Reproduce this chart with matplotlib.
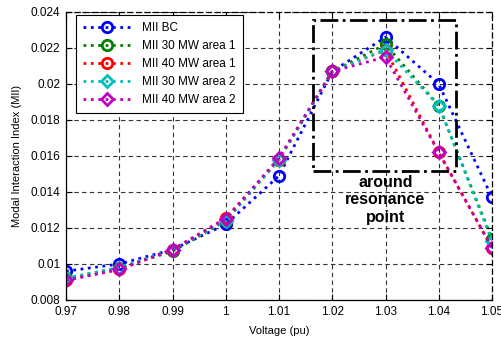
import matplotlib
matplotlib.use("Agg")
import matplotlib.pyplot as plt
from matplotlib.patches import Rectangle

plt.rcParams['font.family'] = ['Liberation Sans', 'DejaVu Sans']

voltage = [0.97, 0.98, 0.99, 1.00, 1.01, 1.02, 1.03, 1.04, 1.05]
mii_bc = [0.0096, 0.0100, 0.0108, 0.0122, 0.0149, 0.0207, 0.0226, 0.0200, 0.0137]
mii_30_a1 = [0.0092, 0.0098, 0.0107, 0.0124, 0.0158, 0.0207, 0.0222, 0.0188, 0.0114]
mii_40_a1 = [0.0091, 0.0097, 0.0108, 0.01255, 0.0158, 0.0207, 0.0219, 0.0162, 0.0109]
mii_30_a2 = [0.0092, 0.0098, 0.0108, 0.0124, 0.0158, 0.0207, 0.0219, 0.0188, 0.0113]
mii_40_a2 = [0.0091, 0.0097, 0.0108, 0.0125, 0.0159, 0.0207, 0.0215, 0.0162, 0.0109]

series = [
    ("MII BC", mii_bc, (0, 0, 1), 'o'),
    ("MII 30 MW area 1", mii_30_a1, (0, 0.5, 0), 'o'),
    ("MII 40 MW area 1", mii_40_a1, (1, 0, 0), 'o'),
    ("MII 30 MW area 2", mii_30_a2, (0, 0.75, 0.75), 'D'),
    ("MII 40 MW area 2", mii_40_a2, (0.75, 0, 0.75), 'D'),
]

fig = plt.figure(figsize=(5.02, 3.42), dpi=100)
ax = fig.add_axes([66/502, 1 - 300/342, (492-66)/502, (300-12)/342])

for label, vals, col, mk in series:
    ms = 7.5 if mk == 'o' else 6.5
    ax.plot(voltage, vals, linestyle=':', color=col, linewidth=2, marker=mk,
            markersize=ms, markerfacecolor='none', markeredgecolor=col,
            markeredgewidth=2, label=label)

ax.set_xlim(0.97, 1.05)
ax.set_ylim(0.008, 0.024)
ax.set_xticks(voltage)
ax.set_xticklabels(['0.97', '0.98', '0.99', '1', '1.01', '1.02', '1.03', '1.04', '1.05'])
yt = [0.008, 0.010, 0.012, 0.014, 0.016, 0.018, 0.020, 0.022, 0.024]
ax.set_yticks(yt)
ax.set_yticklabels(['0.008', '0.01', '0.012', '0.014', '0.016', '0.018', '0.02', '0.022', '0.024'])
ax.tick_params(direction='in', length=4, labelsize=8.5, top=True, right=True,
               colors='black', width=0.8, pad=4)
ax.grid(True, linestyle=(0, (4, 3)), color='#333333', linewidth=0.8)

for s in ['top', 'right']:
    ax.spines[s].set_linestyle((0, (4, 3)))
for s in ax.spines.values():
    s.set_linewidth(0.9)

ax.set_xlabel('Voltage (pu)', fontsize=8, labelpad=6)
ax.set_ylabel('Modal Interaction Index (MII)', fontsize=8, labelpad=6)

rect = Rectangle((1.0164, 0.01517), 1.0433 - 1.0164, 0.02356 - 0.01517,
                 fill=False, edgecolor='black', linewidth=2, linestyle='-.', zorder=3)
ax.add_patch(rect)
ax.text(1.03, 0.01356, 'around\nresonance\npoint', ha='center', va='center',
        fontsize=11.5, fontweight='bold', linespacing=1.2, zorder=4)

leg = ax.legend(loc='upper left', bbox_to_anchor=(10/426, 1 - 3/288), borderaxespad=0,
                fontsize=8.5, frameon=True, fancybox=False, edgecolor='black',
                framealpha=1, handlelength=4.0, handletextpad=1.0, borderpad=0.6,
                labelspacing=0.5)
leg.get_frame().set_linewidth(0.8)

fig.savefig('out.png', dpi=100)
